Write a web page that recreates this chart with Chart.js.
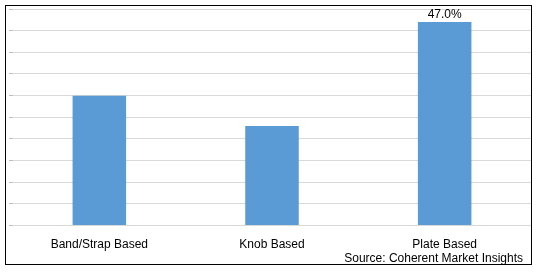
<!DOCTYPE html>
<html>
<head>
<meta charset="utf-8">
<script src="https://cdn.jsdelivr.net/npm/chart.js@4/dist/chart.umd.min.js"></script>
<style>
  html, body { margin: 0; padding: 0; background: #fff; }
  #wrap { position: relative; width: 538px; height: 272px; }
  #frame { position: absolute; left: 5px; top: 5px; width: 527px; height: 260px; border: 1px solid #000; box-sizing: border-box; pointer-events: none; }
  #src { position: absolute; right: 15px; top: 251px; font: 12px "Liberation Sans", Arial, sans-serif; color: #000; white-space: nowrap; }
  canvas { position: absolute; left: 0; top: 0; }
</style>
</head>
<body>
<div id="wrap">
  <canvas id="c" width="538" height="272"></canvas>
  <div id="frame"></div>
  <div id="src">Source: Coherent Market Insights</div>
</div>
<script>
const categories = ['Band/Strap Based', 'Knob Based', 'Plate Based'];
const shareValues = [30, 23, 47];
const dataLabels = ['', '', '47.0%'];

const labelPlugin = {
  id: 'barLabels',
  afterDatasetsDraw(chart) {
    const ctx = chart.ctx;
    const meta = chart.getDatasetMeta(0);
    ctx.save();
    ctx.font = '12px "Liberation Sans", Arial, sans-serif';
    ctx.fillStyle = '#000';
    ctx.textAlign = 'center';
    ctx.textBaseline = 'bottom';
    meta.data.forEach((bar, i) => {
      if (dataLabels[i]) ctx.fillText(dataLabels[i], bar.x, bar.y - 1);
    });
    ctx.restore();
  }
};

new Chart(document.getElementById('c'), {
  type: 'bar',
  data: {
    labels: categories,
    datasets: [{
      data: shareValues,
      backgroundColor: '#5B9BD5',
      categoryPercentage: 1,
      barPercentage: 0.31
    }]
  },
  options: {
    responsive: false,
    animation: false,
    devicePixelRatio: 1,
    layout: { padding: { left: 9, right: 7, top: 9, bottom: 16 } },
    plugins: { legend: { display: false }, tooltip: { enabled: false } },
    scales: {
      x: {
        grid: { display: false },
        border: { display: false },
        ticks: { color: '#000', font: { family: '"Liberation Sans", Arial, sans-serif', size: 12 }, padding: 4, maxRotation: 0 }
      },
      y: {
        min: 0, max: 50,
        grid: { color: '#d9d9d9', drawTicks: true, tickLength: 4, tickColor: '#bfbfbf' },
        border: { display: false },
        ticks: { display: false, stepSize: 5 }
      }
    }
  },
  plugins: [labelPlugin]
});
</script>
</body>
</html>
